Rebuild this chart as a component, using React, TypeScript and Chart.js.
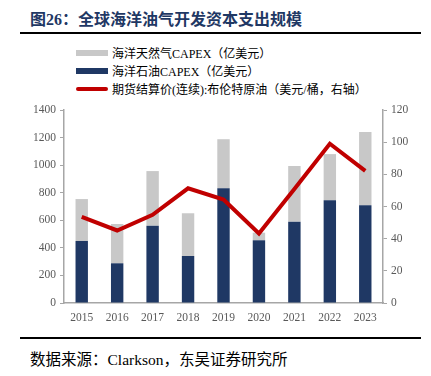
import React, { useEffect, useRef } from "react";
import { Chart, registerables } from "chart.js";

Chart.register(...registerables);

const categories = ["2015", "2016", "2017", "2018", "2019", "2020", "2021", "2022", "2023"];
const oilCapex = [450, 288, 561, 341, 832, 455, 590, 745, 709];
const gasCapex = [304, 285, 396, 310, 356, 55, 404, 335, 531];
const brentPrice = [53.6, 45.1, 54.8, 71.3, 64.3, 43.2, 70.9, 99.0, 82.2];

const titleText = "图26：全球海洋油气开发资本支出规模";
const gasLabel = "海洋天然气CAPEX（亿美元）";
const oilLabel = "海洋石油CAPEX（亿美元）";
const priceLabel = "期货结算价(连续):布伦特原油（美元/桶，右轴）";
const sourceText = "数据来源：Clarkson，东吴证券研究所";

const GRAY = "#C8C8C8";
const NAVY = "#1F3864";
const RED = "#C00000";
const AXIS = "#A6A6A6";
const TICK_FONT = { family: "'Liberation Serif', 'Times New Roman', serif", size: 11.5 };
const CJK = "'Liberation Serif', 'Noto Sans CJK SC', serif";

export default function App() {
  const canvasRef = useRef<HTMLCanvasElement | null>(null);

  useEffect(() => {
    const ctx = canvasRef.current!;
    const chart = new Chart(ctx, {
      type: "bar",
      data: {
        labels: categories,
        datasets: [
          {
            type: "line",
            label: priceLabel,
            data: brentPrice,
            borderColor: RED,
            backgroundColor: RED,
            borderWidth: 4,
            pointRadius: 0,
            tension: 0,
            yAxisID: "y1",
            order: 0,
          } as any,
          {
            label: oilLabel,
            data: oilCapex,
            backgroundColor: NAVY,
            stack: "s",
            yAxisID: "y",
            barPercentage: 0.35,
            categoryPercentage: 1,
            order: 2,
          },
          {
            label: gasLabel,
            data: gasCapex,
            backgroundColor: GRAY,
            stack: "s",
            yAxisID: "y",
            barPercentage: 0.35,
            categoryPercentage: 1,
            order: 2,
          },
        ],
      },
      options: {
        animation: false,
        responsive: false,
        maintainAspectRatio: false,
        layout: { padding: { top: 15, left: 0, right: 0, bottom: 0 } },
        plugins: { legend: { display: false }, tooltip: { enabled: false } },
        scales: {
          x: {
            stacked: true,
            grid: { display: false, drawTicks: false },
            border: { display: true, color: AXIS, width: 1.5 },
            ticks: { color: "#595959", font: TICK_FONT, padding: 8, maxRotation: 0 },
            afterFit: (s: any) => { s.height = 32; },
          },
          y: {
            stacked: true,
            position: "left",
            min: 0,
            max: 1400,
            ticks: { stepSize: 200, color: "#595959", font: TICK_FONT, padding: 4, callback: (v: any) => String(v) },
            grid: { display: true, drawOnChartArea: false, drawTicks: true, tickLength: 4, color: AXIS },
            border: { display: true, color: AXIS, width: 1.5 },
            afterFit: (s: any) => { s.width = 64; },
          },
          y1: {
            position: "right",
            min: 0,
            max: 120,
            ticks: { stepSize: 20, color: "#595959", font: TICK_FONT, padding: 4, callback: (v: any) => String(v) },
            grid: { display: true, drawOnChartArea: false, drawTicks: true, tickLength: 4, color: AXIS },
            border: { display: true, color: AXIS, width: 1.5 },
            afterFit: (s: any) => { s.width = 48; },
          },
        },
      },
    });
    return () => chart.destroy();
  }, []);

  const swatch = (color: string, h: number) => (
    <span style={{ display: "inline-block", width: 32, height: h, background: color, borderRadius: color === RED ? 2 : 0, marginRight: 4 }} />
  );
  const legendRow = (color: string, h: number, text: string, top: number) => (
    <div style={{ position: "absolute", left: 76, top: top - 8, height: 16, display: "flex", alignItems: "center", fontFamily: CJK, fontSize: 12, color: "#000", whiteSpace: "nowrap" }}>
      {swatch(color, h)}
      <span>{text}</span>
    </div>
  );

  return (
    <div style={{ position: "fixed", left: 0, top: 0, width: 431, height: 376, background: "#fff", overflow: "hidden" }}>
      <div style={{ position: "absolute", left: 30, top: 10, fontFamily: "'Liberation Serif', 'Noto Sans CJK SC', serif", fontWeight: "bold", fontSize: 16, color: "#1F3864", whiteSpace: "nowrap", lineHeight: "20px" }}>
        {titleText}
      </div>
      <div style={{ position: "absolute", left: 20, top: 32, width: 401, height: 2, background: "#000" }} />
      {legendRow(GRAY, 6, gasLabel, 53)}
      {legendRow(NAVY, 6, oilLabel, 71)}
      {legendRow(RED, 4, priceLabel, 89)}
      <canvas ref={canvasRef} width={431} height={240} style={{ position: "absolute", left: 0, top: 95, width: 431, height: 240 }} />
      <div style={{ position: "absolute", left: 20, top: 337, width: 401, height: 2, background: "#000" }} />
      <div style={{ position: "absolute", left: 30, top: 350, fontFamily: CJK, fontSize: 15.5, color: "#000", whiteSpace: "nowrap", lineHeight: "20px" }}>
        {sourceText}
      </div>
    </div>
  );
}
